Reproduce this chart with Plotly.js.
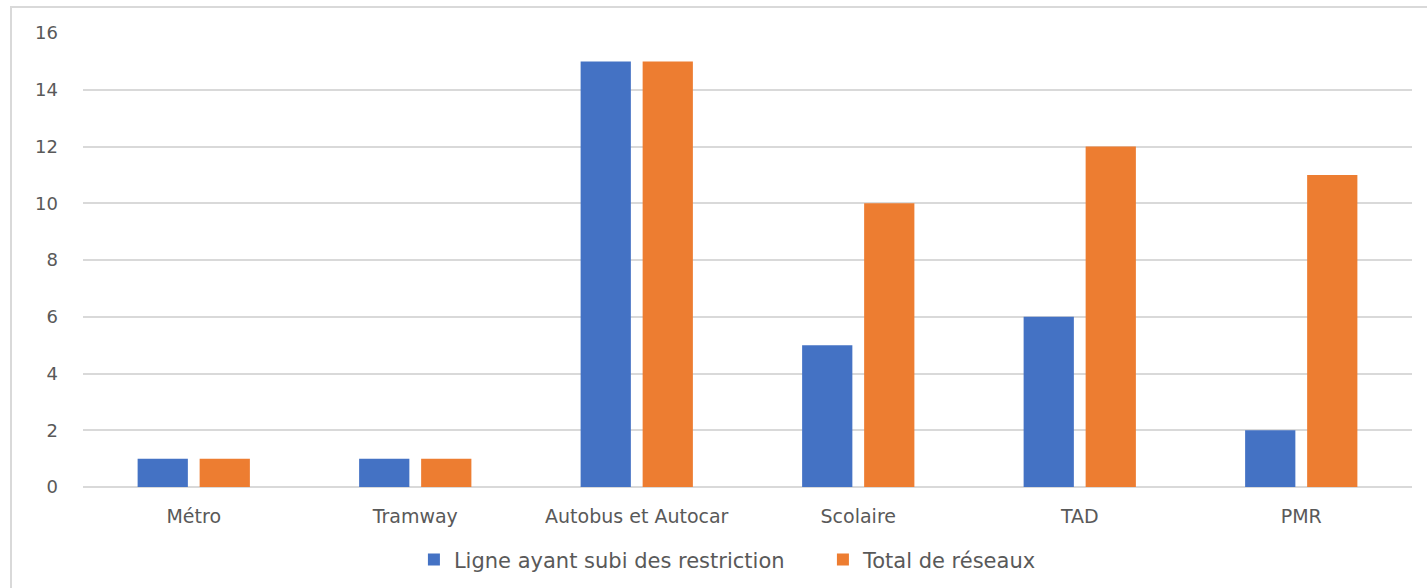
<!DOCTYPE html>
<html><head><meta charset="utf-8">
<script src="https://cdn.plot.ly/plotly-3.0.1.min.js"></script>
<style>
html,body{margin:0;padding:0;background:#fff;overflow:hidden;}
#frame{position:absolute;left:10px;top:6px;width:1440px;height:600px;border:2px solid #d9d9d9;box-sizing:border-box;pointer-events:none;z-index:5;}
#chart{position:absolute;left:0;top:0;width:1427px;height:588px;}
</style></head>
<body>
<div id="chart"></div>
<div id="frame"></div>
<script>
const categories = ["Métro", "Tramway", "Autobus et Autocar", "Scolaire", "TAD", "PMR"];
const seriesNames = ["Ligne ayant subi des restriction", "Total de réseaux"];
const restrictions = [1, 1, 15, 5, 6, 2];
const totalReseaux = [1, 1, 15, 10, 12, 11];
const yTicks = [0, 2, 4, 6, 8, 10, 12, 14, 16];

const fontFam = "'DejaVu Sans', 'Noto Sans', sans-serif";
const data = [
  {type: 'bar', name: seriesNames[0], x: categories, y: restrictions, marker: {color: '#4472C4'}, hoverinfo: 'x+y'},
  {type: 'bar', name: seriesNames[1], x: categories, y: totalReseaux, marker: {color: '#ED7D31'}, hoverinfo: 'x+y'}
];
const layout = {
  width: 1427, height: 588,
  margin: {l: 83, r: 15, t: 33, b: 101},
  paper_bgcolor: '#fff', plot_bgcolor: '#fff',
  barmode: 'group', bargap: 0.44, bargroupgap: 0.19,
  font: {family: fontFam, size: 18, color: '#595959'},
  showlegend: true,
  legend: {orientation: 'h', x: 0.249, xanchor: 'left', xref: 'paper',
           y: 0.048, yanchor: 'middle', yref: 'container',
           font: {size: 21, color: '#595959'}, itemwidth: 30, tracegroupgap: 0,
           entrywidth: 364, entrywidthmode: 'pixels'},
  xaxis: {type: 'category', showgrid: false, zeroline: false, showline: false, ticks: '',
          ticklabelstandoff: 16, tickfont: {size: 19, color: '#595959'}},
  yaxis: {range: [0, 16], tickvals: yTicks, ticktext: yTicks.map(String), showgrid: true,
          gridcolor: '#d9d9d9', gridwidth: 2, zeroline: true, zerolinecolor: '#d9d9d9', zerolinewidth: 2,
          showline: false, ticks: '', ticklabelstandoff: 24, tickfont: {size: 18, color: '#595959'}}
};
Plotly.newPlot('chart', data, layout, {displayModeBar: false, staticPlot: true});
</script>
</body></html>
